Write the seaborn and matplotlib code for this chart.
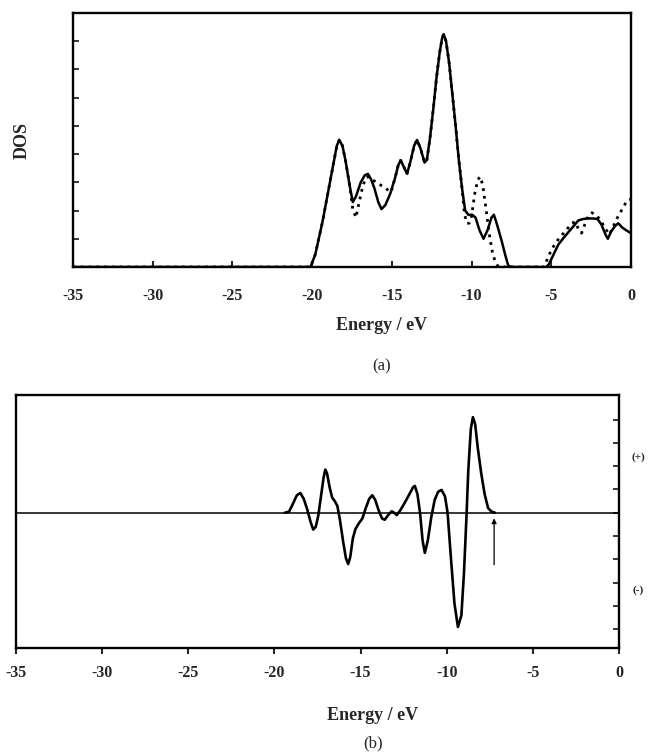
import numpy as np
import pandas as pd
import seaborn as sns
import matplotlib.pyplot as plt

sns.set_style("white")
plt.rcParams["font.family"] = ["Liberation Serif", "DejaVu Serif"]

# (a) total DOS, solid and dotted curves
energy_solid = [-35, -20.1, -19.8, -19.35, -18.95, -18.65, -18.45, -18.3, -18.1, -17.9, -17.65,
                -17.45, -17.25, -16.95, -16.7, -16.5, -16.3, -16.1, -15.85, -15.65, -15.4, -15.1,
                -14.8, -14.6, -14.45, -14.25, -14.05, -13.85, -13.6, -13.42, -13.2, -12.95, -12.8,
                -12.6, -12.4, -12.2, -12.0, -11.85, -11.75, -11.6, -11.4, -11.2, -11.0, -10.8,
                -10.6, -10.4, -10.2, -9.95, -9.75, -9.5, -9.25, -9.0, -8.75, -8.6, -8.4, -8.1,
                -7.9, -7.7, -7.5, -5.3, -5.15, -4.85, -4.55, -4.2, -3.9, -3.6, -3.3, -3.0, -2.7,
                -2.4, -2.1, -1.85, -1.6, -1.45, -1.25, -1.0, -0.8, -0.55, -0.3, 0]
dos_solid = [0, 0, 0.45, 1.6, 2.8, 3.7, 4.3, 4.5, 4.3, 3.75, 2.9,
             2.3, 2.5, 3.0, 3.25, 3.3, 3.1, 2.8, 2.3, 2.05, 2.2, 2.6,
             3.15, 3.6, 3.78, 3.55, 3.3, 3.7, 4.3, 4.5, 4.2, 3.7, 3.8,
             4.6, 5.6, 6.7, 7.6, 8.1, 8.25, 8.0, 7.2, 6.1, 5.0, 3.8,
             2.8, 2.0, 1.85, 1.85, 1.75, 1.3, 1.0, 1.3, 1.75, 1.85, 1.5, 0.9,
             0.45, 0.05, 0, 0, 0.1, 0.45, 0.8, 1.05, 1.25, 1.45, 1.65, 1.7, 1.72,
             1.72, 1.7, 1.5, 1.15, 1.0, 1.25, 1.45, 1.55, 1.4, 1.3, 1.2]

energy_dotted = [-35, -20.1, -19.8, -19.35, -18.95, -18.65, -18.45, -18.3, -18.1, -17.9, -17.65,
                 -17.45, -17.25, -17.05, -16.85, -16.65, -16.5, -16.3, -16.0, -15.7, -15.4, -15.2,
                 -15.05, -14.8, -14.6, -14.45, -14.25, -14.05, -13.85, -13.6, -13.42, -13.2, -12.95,
                 -12.8, -12.6, -12.4, -12.2, -12.0, -11.85, -11.75, -11.6, -11.4, -11.2, -11.0,
                 -10.8, -10.6, -10.45, -10.3, -10.15, -10.0, -9.8, -9.6, -9.45, -9.3, -9.1, -8.9,
                 -8.7, -8.5, -8.3, -5.45, -5.2, -4.95, -4.6, -4.3, -4.0, -3.7, -3.5, -3.3, -3.1,
                 -2.9, -2.65, -2.45, -2.2, -1.9, -1.6, -1.35, -1.1, -0.85, -0.55, -0.25, 0]
dos_dotted = [0, 0, 0.45, 1.6, 2.8, 3.7, 4.3, 4.5, 4.3, 3.75, 2.9,
              2.05, 1.75, 2.3, 2.8, 3.15, 3.2, 3.1, 3.02, 2.9, 2.8, 2.7,
              2.65, 3.15, 3.6, 3.78, 3.55, 3.3, 3.7, 4.3, 4.5, 4.2, 3.7,
              3.8, 4.6, 5.6, 6.7, 7.6, 8.1, 8.25, 8.0, 7.2, 6.1, 5.0,
              3.8, 2.8, 1.9, 1.55, 1.55, 1.8, 2.6, 3.1, 3.2, 2.9, 2.1, 1.2,
              0.55, 0.15, 0, 0, 0.35, 0.65, 0.95, 1.15, 1.35, 1.55, 1.6, 1.35, 1.2,
              1.5, 1.85, 1.92, 1.85, 1.65, 1.35, 1.15, 1.45, 1.75, 2.05, 2.35, 2.4]

# (b) overlap curve
energy_b = [-19.4, -19.15, -18.95, -18.7, -18.5, -18.3, -18.1, -17.9, -17.75, -17.6, -17.45,
            -17.3, -17.15, -17.05, -16.95, -16.8, -16.65, -16.5, -16.35, -16.2, -16.0, -15.85,
            -15.72, -15.6, -15.45, -15.3, -15.1, -14.9, -14.7, -14.5, -14.32, -14.15, -13.95,
            -13.75, -13.6, -13.4, -13.2, -13.05, -12.9, -12.7, -12.5, -12.2, -11.95, -11.85,
            -11.7, -11.55, -11.4, -11.27, -11.1, -10.9, -10.7, -10.5, -10.3, -10.1, -9.95,
            -9.75, -9.55, -9.35, -9.15, -9.0, -8.85, -8.75, -8.6, -8.48, -8.35, -8.2, -8.0,
            -7.8, -7.6, -7.4, -7.2]
value_b = [0, 0.05, 0.35, 0.75, 0.85, 0.6, 0.15, -0.4, -0.72, -0.6, -0.1,
           0.7, 1.5, 1.85, 1.7, 1.1, 0.65, 0.5, 0.3, -0.3, -1.3, -1.95,
           -2.2, -1.9, -1.1, -0.7, -0.45, -0.25, 0.2, 0.6, 0.75, 0.55, 0.1,
           -0.25, -0.3, -0.1, 0.06, 0.0, -0.1, 0.1, 0.35, 0.75, 1.1, 1.15,
           0.8, 0.0, -1.2, -1.72, -1.2, -0.2, 0.55, 0.9, 0.98, 0.7, 0.0,
           -2.0, -3.9, -4.9, -4.4, -2.6, -0.1, 1.8, 3.6, 4.1, 3.8, 2.8, 1.7,
           0.8, 0.2, 0.05, 0]

fermi_level = -7.25
x_ticks = [-35, -30, -25, -20, -15, -10, -5, 0]

df_solid = pd.DataFrame({"Energy": energy_solid, "DOS": dos_solid})
df_dotted = pd.DataFrame({"Energy": energy_dotted, "DOS": dos_dotted})
df_b = pd.DataFrame({"Energy": energy_b, "Value": value_b})

fig = plt.figure(figsize=(6.54, 7.54), dpi=100)
ax1 = fig.add_axes([0.1116, 0.6459, 0.8532, 0.3369])
ax2 = fig.add_axes([0.0245, 0.1406, 0.9220, 0.3355])

# panel (a)
sns.lineplot(ax=ax1, data=df_dotted, x="Energy", y="DOS", color="black", lw=2.0,
             linestyle=(0, (1, 1.8)), sort=False)
sns.lineplot(ax=ax1, data=df_solid, x="Energy", y="DOS", color="black", lw=1.8, sort=False)
ax1.set_xlim(-35, 0)
ax1.set_ylim(0, 9)
ax1.set_xticks(x_ticks)
ax1.set_xticklabels([str(t) for t in x_ticks], fontweight="bold", fontsize=11.5)
ax1.set_yticks(range(1, 9))
ax1.set_yticklabels([])
ax1.tick_params(axis="x", direction="in", length=4, width=1.5, pad=15, bottom=True)
ax1.tick_params(axis="y", direction="in", length=4, width=1.3, left=True)
ax1.set_xlabel("")
ax1.set_ylabel("")
for s in ax1.spines.values():
    s.set_linewidth(1.7)
    s.set_color("black")

# panel (b)
ax2.axhline(0, color="black", lw=1.1)
sns.lineplot(ax=ax2, data=df_b, x="Energy", y="Value", color="black", lw=1.9, sort=False)
ax2.annotate("", xy=(fermi_level, -0.12), xytext=(fermi_level, -2.35),
             arrowprops=dict(arrowstyle="-|>", color="black", lw=0.9, mutation_scale=7))
ax2.set_xlim(-35, 0)
ax2.set_ylim(-5.8, 5.05)
ax2.set_xticks(x_ticks)
ax2.set_xticklabels([str(t) for t in x_ticks], fontweight="bold", fontsize=11.5)
ax2.yaxis.tick_right()
ax2.set_yticks(range(-5, 5))
ax2.set_yticklabels([])
ax2.tick_params(axis="x", direction="out", length=4, width=1.5, pad=8, bottom=True)
ax2.tick_params(axis="y", direction="in", length=4, width=1.3, right=True, left=False)
ax2.set_xlabel("")
ax2.set_ylabel("")
for s in ax2.spines.values():
    s.set_linewidth(1.7)
    s.set_color("black")

# labels
fig.text(0.034, 0.814, "DOS", rotation=90, ha="center", va="center", fontsize=13, fontweight="bold")
fig.text(0.583, 1 - 325 / 754, "Energy / eV", ha="center", va="center", fontsize=13, fontweight="bold")
fig.text(0.583, 1 - 366 / 754, "(a)", ha="center", va="center", fontsize=12)
fig.text(0.570, 1 - 716 / 754, "Energy / eV", ha="center", va="center", fontsize=13, fontweight="bold")
fig.text(0.570, 1 - 743 / 754, "(b)", ha="center", va="center", fontsize=12)
fig.text(638 / 654, 1 - 457 / 754, "(+)", ha="center", va="center", fontsize=8, fontweight="bold")
fig.text(638 / 654, 1 - 590 / 754, "(-)", ha="center", va="center", fontsize=8, fontweight="bold")

plt.savefig("out.png", dpi=100)
